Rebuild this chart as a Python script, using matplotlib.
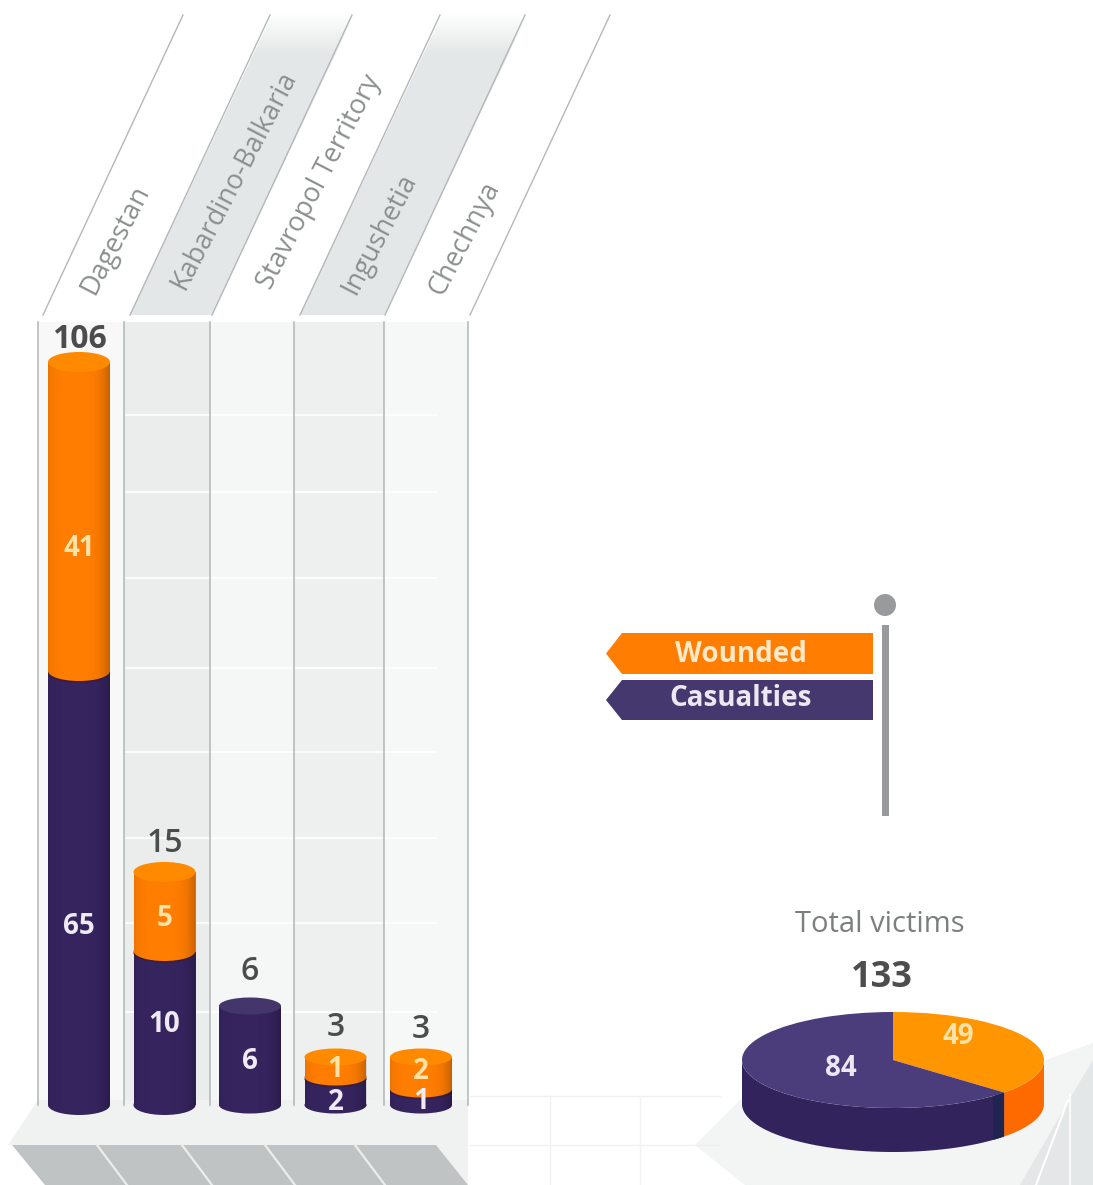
import numpy as np
import matplotlib
matplotlib.use("Agg")
import matplotlib.pyplot as plt
from matplotlib.patches import Ellipse, Polygon, PathPatch, Rectangle, Circle
from matplotlib.path import Path

plt.rcParams["font.family"] = ["Open Sans", "DejaVu Sans"]

regions = ["Dagestan", "Kabardino-Balkaria", "Stavropol Territory", "Ingushetia", "Chechnya"]
casualties = [65, 10, 6, 2, 1]
wounded = [41, 5, 0, 1, 2]
total_labels = ["Wounded", "Casualties"]
total_values = [49, 84]
total_victims = 133

# the bars in the picture are not to a linear scale, so the axis is bent to follow it
scale_values = [0, 1, 2, 3, 6, 10, 15, 65, 106]
scale_pixels = [0, 15, 27, 48, 99, 153, 233, 433, 743]

ORANGE = "#ff7d00"
ORANGE_TOP = "#ff8a00"
NAVY = "#36245f"
NAVY_TOP = "#44356b"
W, H = 1093, 1185
BASE_Y = 1105
BAR_W = 62
SKEW = 142


def forward(v):
    return np.interp(v, scale_values, scale_pixels)


def inverse(p):
    return np.interp(p, scale_pixels, scale_values)


fig = plt.figure(figsize=(W / 100, H / 100), dpi=100, facecolor="white")

# background layer, in pixels
bg = fig.add_axes([0, 0, 1, 1], zorder=0)
bg.set_xlim(0, W)
bg.set_ylim(H, 0)
bg.axis("off")

# slanted headers
edges = [43, 130, 212, 300, 385, 470]
for i in [1, 3]:
    bg.add_patch(Polygon([(edges[i], 315), (edges[i + 1], 315), (edges[i + 1] + SKEW, 15), (edges[i] + SKEW, 15)],
                         fc="#e4e7e7", ec="none"))
fade = np.ones((40, 2, 4))
fade[:, :, 3] = np.linspace(1, 0, 40)[:, None]
bg.imshow(fade, extent=(120, 540, 55, 12), aspect="auto", zorder=2)
for e in edges:
    bg.plot([e, e + SKEW - 2], [315, 15], color="#b4b8b8", lw=1, zorder=3)

# back walls of the columns
walls = [38, 124, 210, 294, 384, 468]
wall_cols = ["#f8f8f8", "#ebeded", "#f5f6f6", "#eef0f0", "#f6f7f7"]
for i, c in enumerate(wall_cols):
    bg.add_patch(Rectangle((walls[i], 322), walls[i + 1] - walls[i], 785, fc=c, ec="none"))
for y in [415, 492, 578, 668, 752, 838, 923, 1012]:
    bg.plot([126, 436], [y, y], color="white", lw=1.6, alpha=0.8)
for x in walls:
    bg.plot([x, x], [322, 1105], color="#b2b6b6", lw=1.1)

# faint floor grid between the platforms
for y in [1096, 1145]:
    bg.plot([470, 720], [y, y], color="#f0f0f0", lw=1)
for x in [550, 640]:
    bg.plot([x, x], [1096, H], color="#f2f2f2", lw=1)

# left platform
bg.add_patch(Polygon([(38, 1100), (468, 1100), (468, 1185), (436, 1145), (8, 1145)], fc="#f0f1f1", ec="none"))
bg.add_patch(Polygon([(12, 1145), (436, 1145), (468, 1185), (45, 1185)], fc="#bfc3c3", ec="none"))
for x in [97, 182, 265, 355]:
    bg.plot([x, x + 30], [1145, 1185], color="#eceeee", lw=1.6)

# right platform
bg.add_patch(Polygon([(695, 1145), (745, 1095), (1040, 1062), (1093, 1043), (1093, 1185), (745, 1185)],
                     fc="#f3f4f4", ec="none"))
bg.add_patch(Polygon([(1020, 1185), (1072, 1095), (1093, 1060), (1093, 1185)], fc="#e4e7e7", ec="none"))
bg.plot([1068, 1036], [1100, 1185], color="white", lw=1.5)
bg.plot([1070, 1070], [1095, 1185], color="white", lw=1.2)

# bars, on a real value axis
bx = fig.add_axes([0, (H - BASE_Y) / H, 1, 743 / H], zorder=1)
spacing = 85.5
x_left = -79 / spacing
bx.set_xlim(x_left, x_left + W / spacing)
bx.set_yscale("function", functions=(forward, inverse))
bx.set_ylim(0, 106)
bx.axis("off")
xs = np.arange(len(regions))
cas = np.array(casualties)
wou = np.array(wounded)
bar_width = BAR_W / spacing
bx.bar(xs, cas, width=bar_width, color=NAVY, linewidth=0)
bx.bar(xs, wou, bottom=cas, width=bar_width, color=ORANGE, linewidth=0)

# top layer, in pixels: shading, caps and all text
top = fig.add_axes([0, 0, 1, 1], zorder=2)
top.set_xlim(0, W)
top.set_ylim(H, 0)
top.axis("off")
top.patch.set_alpha(0)


def to_px(x, v):
    dx, dy = bx.transData.transform((x, v))
    return dx, H - dy


# darker on the right edge than on the left
shade = np.zeros((1, 64, 4))
shade[0, :, 3] = np.abs(np.linspace(-0.75, 1, 64)) ** 4 * 0.22

for i in xs:
    cx, y0 = to_px(i, 0)
    _, y1 = to_px(i, cas[i])
    _, y2 = to_px(i, cas[i] + wou[i])
    cap_h = 20 if cas[i] + wou[i] > 10 else 17
    top.add_patch(Ellipse((cx, y0), BAR_W, cap_h, fc=NAVY, ec="none", zorder=1))
    if wou[i] > 0:
        top.add_patch(Ellipse((cx, y1 + 1), BAR_W, cap_h, fc="#3a1f45", ec="none", zorder=2))
        top.add_patch(Ellipse((cx, y1 - 1), BAR_W, cap_h, fc=ORANGE, ec="none", zorder=2))
    im = top.imshow(shade, extent=(cx - BAR_W / 2, cx + BAR_W / 2, y0 + cap_h / 2, y2), aspect="auto", zorder=3)
    t = np.linspace(np.pi, 0, 30)
    outline = [(cx - BAR_W / 2, y2)] + list(zip(cx + BAR_W / 2 * np.cos(t), y0 + cap_h / 2 * np.sin(t))) + [(cx + BAR_W / 2, y2)]
    im.set_clip_path(PathPatch(Path(outline + [outline[0]]), transform=top.transData))
    top.add_patch(Ellipse((cx, y2), BAR_W, cap_h, fc=ORANGE_TOP if wou[i] > 0 else NAVY_TOP, ec="none", zorder=4))

# column labels along the slanted headers
label_pos = [(115, 240), (234, 180), (319, 182), (379, 234), (465, 238)]
for name, (lx, ly) in zip(regions, label_pos):
    top.text(lx, ly, name, rotation=62.5, rotation_mode="anchor", ha="center", va="center",
             fontsize=19.5, color="#8c8f8f")

# value labels: gap above each bar, then positions inside the segments
total_gap = [23, 29, 35, 29, 27]
wounded_shift = [31, 6, 0, 2, -2]
casualty_shift = [38, -4, 6, 11, 4]
for i in xs:
    cx, y0 = to_px(i, 0)
    _, y1 = to_px(i, cas[i])
    _, y2 = to_px(i, cas[i] + wou[i])
    top.text(cx, y2 - total_gap[i], str(cas[i] + wou[i]), ha="center", va="center", fontsize=23,
             fontweight="bold" if i == 0 else "semibold", color="#4c4c4c", zorder=6)
    top.text(cx, (y0 + y1) / 2 + casualty_shift[i], str(cas[i]), ha="center", va="center", fontsize=20,
             fontweight="bold", color="#efeaf4", zorder=6)
    if wou[i] > 0:
        top.text(cx, (y1 + y2) / 2 + wounded_shift[i], str(wou[i]), ha="center", va="center", fontsize=20,
                 fontweight="bold", color="#ffe2a8", zorder=6)

# legend flag
top.add_patch(Circle((885, 605), 11, fc="#999a9c", ec="none"))
top.add_patch(Rectangle((882, 625), 7, 191, fc="#999a9c", ec="none"))
flag_y = [(633, 674, ORANGE, "#ffe9c8", 654), (680, 720, "#45386f", "#ecE8f2", 698)]
for (a, b, col, tc, ty), name in zip(flag_y, total_labels):
    top.add_patch(Polygon([(873, a), (873, b), (622, b), (606, (a + b) / 2), (622, a)], fc=col, ec="none"))
    top.text(741, ty, name, ha="center", va="center", fontsize=20, fontweight="bold", color=tc)

# pie with the total
PIE_X, PIE_Y, PIE_RX, PIE_RY, DEPTH = 893, 1060, 151, 48, 44
share = total_values[0] / sum(total_values) * 360
split = np.radians(90 - share)
t_orange = np.linspace(0, split, 30)
t_navy = np.linspace(split, -np.pi, 80)


def side(t):
    x = PIE_X + PIE_RX * np.cos(t)
    y = PIE_Y - PIE_RY * np.sin(t)
    return list(zip(x, y)) + list(zip(x[::-1], y[::-1] + DEPTH))


top.add_patch(Polygon(side(t_orange), fc="#ff6a00", ec="none", zorder=1))
top.add_patch(Polygon(side(t_navy), fc="#33235c", ec="none", zorder=1))
top.add_patch(Polygon(side(np.linspace(split, split - 0.1, 6)), fc="#1f2450", ec="none", zorder=1))

pie_ax = fig.add_axes([(PIE_X - PIE_RX) / W, (H - PIE_Y - PIE_RY) / H, 2 * PIE_RX / W, 2 * PIE_RY / H], zorder=3)
pie_ax.pie(total_values, colors=["#ff9500", "#4b3c7c"], startangle=90, counterclock=False, radius=1)
pie_ax.set_aspect("auto")
pie_ax.set_xlim(-1, 1)
pie_ax.set_ylim(-1, 1)
pie_ax.axis("off")

overlay = fig.add_axes([0, 0, 1, 1], zorder=4)
overlay.set_xlim(0, W)
overlay.set_ylim(H, 0)
overlay.axis("off")
overlay.patch.set_alpha(0)
overlay.text(880, 924, "Total victims", ha="center", va="center", fontsize=21, color="#7c7f80")
overlay.text(882, 978, str(total_victims), ha="center", va="center", fontsize=26, fontweight="bold", color="#4d4d4d")
overlay.text(841, 1068, str(total_values[1]), ha="center", va="center", fontsize=20, fontweight="bold", color="#ece8f2")
overlay.text(958, 1037, str(total_values[0]), ha="center", va="center", fontsize=20, fontweight="bold", color="#ffe2a8")

top.set_xlim(0, W)
top.set_ylim(H, 0)
bg.set_xlim(0, W)
bg.set_ylim(H, 0)
fig.savefig("out.png", dpi=100)
plt.close(fig)
